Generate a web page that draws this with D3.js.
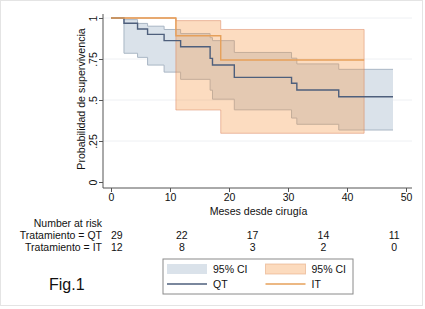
<!DOCTYPE html>
<html>
<head>
<meta charset="utf-8">
<script src="https://cdn.jsdelivr.net/npm/d3@7"></script>
<style>
  body { margin: 0; background: #fff; }
  text { font-family: "Liberation Sans", Arial, sans-serif; fill: #111; }
</style>
</head>
<body>
<script>
const Width = 425;
const Height = 309;

// Kaplan-Meier steps
const qtTimes = [0, 2.2, 4.5, 6.2, 9.0, 11.8, 16.8, 17.2, 20.9, 30.6, 31.5, 38.6, 47.8];
const qtSurv  = [1, 0.968, 0.933, 0.900, 0.862, 0.825, 0.754, 0.713, 0.638, 0.602, 0.561, 0.520, 0.520];
const qtLower = [1, 0.785, 0.760, 0.713, 0.670, 0.626, 0.560, 0.505, 0.440, 0.390, 0.352, 0.317, 0.317];
const qtUpper = [1, 0.990, 0.967, 0.950, 0.930, 0.905, 0.880, 0.862, 0.790, 0.755, 0.720, 0.687, 0.687];

const itTimes = [0, 11.0, 18.6, 42.9];
const itSurv  = [1, 0.892, 0.744, 0.744];
const itLower = [1, 0.439, 0.297, 0.297];
const itUpper = [1, 0.984, 0.930, 0.930];

const xTicks = [0, 10, 20, 30, 40, 50];
const yTicks = [0, 0.25, 0.5, 0.75, 1];
const yTickLabels = ["0", ".25", ".5", ".75", "1"];

const riskTimes = [0, 12, 24, 36, 48];
const riskQT = [29, 22, 17, 14, 11];
const riskIT = [12, 8, 3, 2, 0];

const svg = d3.select('body')
  .append('svg')
    .attr('width', Width)
    .attr('height', Height);

// outer frame
svg.append('rect')
  .attr('x', 0.5).attr('y', 0.5)
  .attr('width', 422).attr('height', 305)
  .attr('fill', '#fff')
  .attr('stroke', '#e4e4e4');

const xScale = d3.scaleLinear().domain([0, 50]).range([111, 406]);
const yScale = d3.scaleLinear().domain([0, 1]).range([182, 18]);

const plotLeft = 103, plotRight = 412, plotTop = 14, plotBottom = 188;

// grid
svg.append('g')
  .selectAll('line')
  .data(yTicks.filter(d => d > 0))
  .join('line')
    .attr('x1', plotLeft).attr('x2', plotRight)
    .attr('y1', d => yScale(d)).attr('y2', d => yScale(d))
    .attr('stroke', '#eef0f3')
    .attr('stroke-width', 1);

const series = (times, vals) => times.map((t, i) => ({ t: t, v: vals[i] }));
const bandData = (times, lo, hi) => times.map((t, i) => ({ t: t, lo: lo[i], hi: hi[i] }));

const area = d3.area()
  .x(d => xScale(d.t))
  .y0(d => yScale(d.lo))
  .y1(d => yScale(d.hi))
  .curve(d3.curveStepAfter);

const line = d3.line()
  .x(d => xScale(d.t))
  .y(d => yScale(d.v))
  .curve(d3.curveStepAfter);

const blueFill = 'rgb(218,226,234)';
const blueEdge = '#a9b6c4';
const blueLine = '#4e5f7c';
const orangeFill = 'rgba(246,155,75,0.35)';
const orangeEdge = 'rgba(215,120,80,0.45)';
const orangeLine = '#e6a05a';

// CI bands
const qtBand = bandData(qtTimes, qtLower, qtUpper);
const itBand = bandData(itTimes, itLower, itUpper);

svg.append('path').datum(qtBand)
  .attr('d', area).attr('fill', blueFill);
svg.append('path').datum(series(qtTimes, qtLower))
  .attr('d', line).attr('fill', 'none').attr('stroke', blueEdge);
svg.append('path').datum(series(qtTimes, qtUpper))
  .attr('d', line).attr('fill', 'none').attr('stroke', blueEdge);

svg.append('path').datum(itBand)
  .attr('d', area).attr('fill', orangeFill);
svg.append('path').datum(itBand)
  .attr('d', area).attr('fill', 'none').attr('stroke', orangeEdge);

// survival curves
svg.append('path').datum(series(qtTimes, qtSurv))
  .attr('d', line).attr('fill', 'none').attr('stroke', blueLine).attr('stroke-width', 1.4);
svg.append('path').datum(series(itTimes, itSurv))
  .attr('d', line).attr('fill', 'none').attr('stroke', orangeLine).attr('stroke-width', 1.4);

// axes
const axisColor = '#555';
const xAxisG = svg.append('g')
  .attr('transform', `translate(0, ${plotBottom})`)
  .call(d3.axisBottom(xScale).tickValues(xTicks).tickSize(4).tickPadding(2));
xAxisG.select('.domain').attr('d', `M${plotLeft},0H${plotRight}`).attr('stroke', axisColor);
xAxisG.selectAll('.tick line').attr('stroke', axisColor);
xAxisG.selectAll('.tick text')
  .style('font-family', '"Liberation Sans", Arial, sans-serif')
  .style('font-size', '10.5px').attr('fill', '#111');

const yAxisG = svg.append('g')
  .attr('transform', `translate(${plotLeft}, 0)`)
  .call(d3.axisLeft(yScale).tickValues(yTicks).tickSize(4).tickFormat((d, i) => yTickLabels[i]));
yAxisG.select('.domain').attr('d', `M0,${plotTop}V${plotBottom}`).attr('stroke', axisColor);
yAxisG.selectAll('.tick line').attr('stroke', axisColor);
yAxisG.selectAll('.tick text')
  .attr('x', null).attr('dy', null)
  .attr('text-anchor', 'middle')
  .attr('transform', 'translate(-10,0) rotate(-90)')
  .attr('dy', '0.35em')
  .style('font-family', '"Liberation Sans", Arial, sans-serif')
  .style('font-size', '10.5px').attr('fill', '#111');

// axis titles
svg.append('text')
  .attr('transform', `translate(81, ${(plotTop + 182) / 2 + 1}) rotate(-90)`)
  .attr('text-anchor', 'middle')
  .attr('dy', '0.35em')
  .style('font-size', '10.6px')
  .text('Probabilidad de supervivencia');

svg.append('text')
  .attr('x', xScale(25)).attr('y', 215)
  .attr('text-anchor', 'middle')
  .style('font-size', '10.6px')
  .text('Meses desde cirugía');

// number at risk
svg.append('text')
  .attr('x', 102).attr('y', 227)
  .attr('text-anchor', 'end')
  .style('font-size', '10.5px')
  .text('Number at risk');

const riskRows = [
  { label: 'Tratamiento = QT', vals: riskQT, y: 239 },
  { label: 'Tratamiento = IT', vals: riskIT, y: 251 }
];

riskRows.forEach(row => {
  svg.append('text')
    .attr('x', 102).attr('y', row.y)
    .attr('text-anchor', 'end')
    .style('font-size', '10.5px')
    .text(row.label);
  svg.append('g').selectAll('text')
    .data(row.vals)
    .join('text')
      .attr('x', (d, i) => xScale(riskTimes[i]))
      .attr('y', row.y)
      .attr('text-anchor', (d, i) => i === 0 ? 'start' : 'middle')
      .style('font-size', '10.5px')
      .text(d => d);
});

// legend
const legend = svg.append('g').attr('transform', 'translate(163, 259)');
legend.append('rect')
  .attr('width', 190).attr('height', 35)
  .attr('fill', '#fff').attr('stroke', '#8a8a8a');

const legendItems = [
  { col: 0, row: 0, kind: 'band', fill: blueFill, stroke: 'none', label: '95% CI' },
  { col: 1, row: 0, kind: 'band', fill: 'rgb(252,219,190)', stroke: 'rgba(230,170,130,0.6)', label: '95% CI' },
  { col: 0, row: 1, kind: 'line', stroke: blueLine, label: 'QT' },
  { col: 1, row: 1, kind: 'line', stroke: orangeLine, label: 'IT' }
];

legendItems.forEach(it => {
  const gx = 4 + it.col * 98.5;
  const gy = it.row === 0 ? 10.5 : 25;
  if (it.kind === 'band') {
    legend.append('rect')
      .attr('x', gx).attr('y', gy - 5.5)
      .attr('width', 40).attr('height', 10)
      .attr('fill', it.fill).attr('stroke', it.stroke);
  } else {
    legend.append('line')
      .attr('x1', gx).attr('x2', gx + 40)
      .attr('y1', gy).attr('y2', gy)
      .attr('stroke', it.stroke).attr('stroke-width', 1.4);
  }
  legend.append('text')
    .attr('x', gx + 46).attr('y', gy)
    .attr('dy', '0.35em')
    .style('font-size', '10.5px')
    .text(it.label);
});

svg.append('text')
  .attr('x', 49).attr('y', 290)
  .style('font-size', '16px')
  .text('Fig.1');
</script>
</body>
</html>
